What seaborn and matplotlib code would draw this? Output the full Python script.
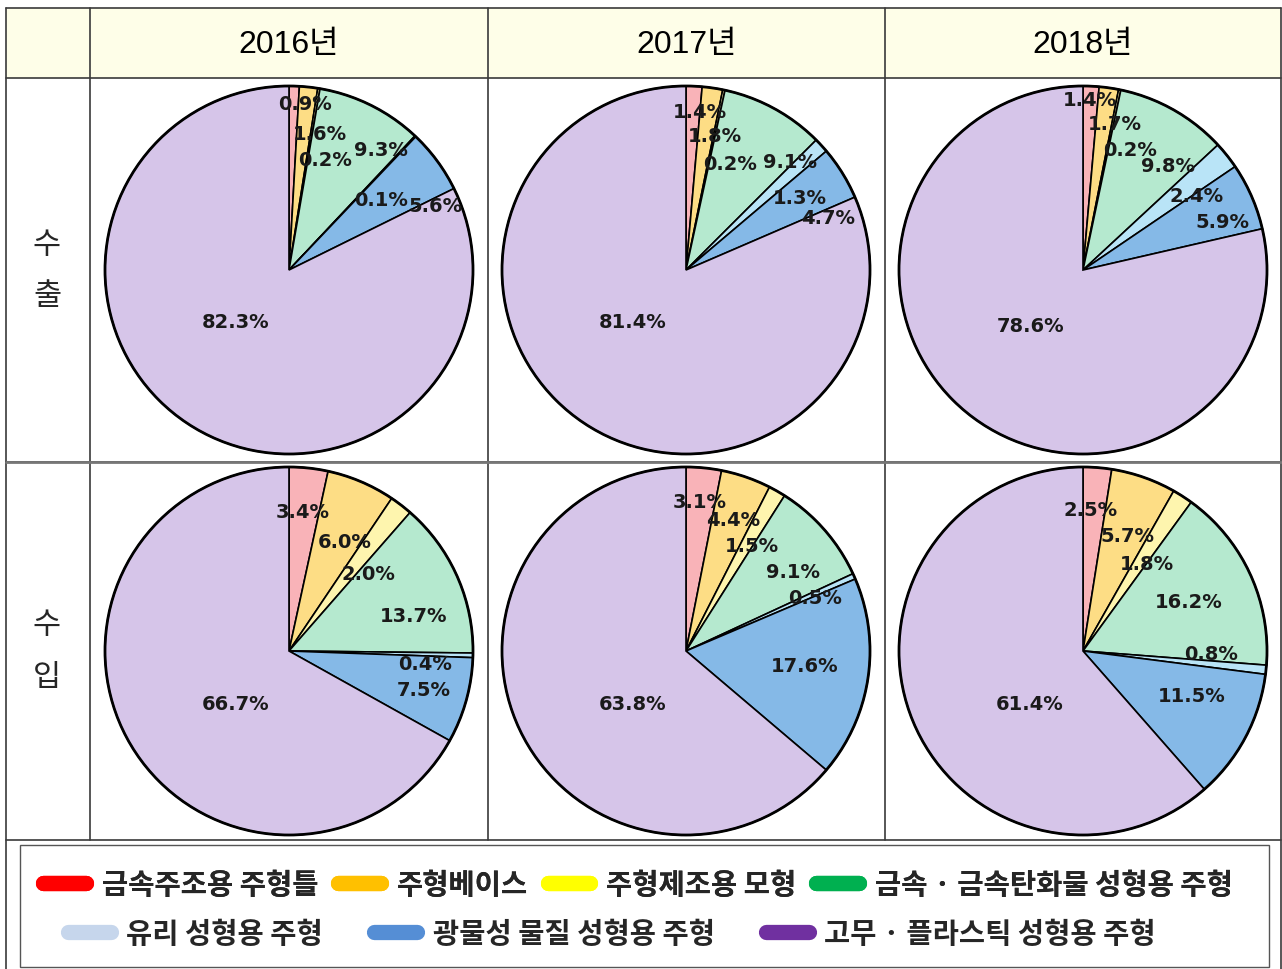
import seaborn as sns
import pandas as pd
import matplotlib.pyplot as plt
from matplotlib.lines import Line2D
from matplotlib.patches import Rectangle

# product groups (legend order = slice order, clockwise from 12 o'clock)
categories = ["금속주조용 주형틀", "주형베이스", "주형제조용 모형",
              "금속 · 금속탄화물 성형용 주형", "유리 성형용 주형",
              "광물성 물질 성형용 주형", "고무 · 플라스틱 성형용 주형"]
years = ["2016년", "2017년", "2018년"]
rows = ["수출", "수입"]

# shares in percent
export_2016 = [0.9, 1.6, 0.2, 9.3, 0.1, 5.6, 82.3]
export_2017 = [1.4, 1.8, 0.2, 9.1, 1.3, 4.7, 81.4]
export_2018 = [1.4, 1.7, 0.2, 9.8, 2.4, 5.9, 78.6]
import_2016 = [3.4, 6.0, 2.0, 13.7, 0.4, 7.5, 66.7]
import_2017 = [3.1, 4.4, 1.5, 9.1, 0.5, 17.6, 63.8]
import_2018 = [2.5, 5.7, 1.8, 16.2, 0.8, 11.5, 61.4]

df = pd.DataFrame({
    "category": categories * 6,
    "kind": sum([[r] * 7 * 3 for r in rows], []),
    "year": sum([[y] * 7 for y in years], []) * 2,
    "share": export_2016 + export_2017 + export_2018 + import_2016 + import_2017 + import_2018,
})

pie_colors = ["#F9B3B8", "#FDDD85", "#FEF5AE", "#B5E9CF", "#B9E4F7", "#85B9E7", "#D6C5E9"]
legend_colors = ["#FF0000", "#FFC000", "#FFFF00", "#00B050", "#C6D6EC", "#558ED5", "#7030A0"]

# label placement (pixels from pie centre), per pie
label_pos = {
    ("수출", "2016년"): [(16, -166), (31, -137), (36, -111), (92, -120), (92, -70), (146, -65), (-53, 52)],
    ("수출", "2017년"): [(14, -158), (29, -134), (44, -106), (104, -109), (114, -72), (142, -52), (-53, 52)],
    ("수출", "2018년"): [(7, -170), (32, -147), (47, -120), (85, -104), (114, -75), (139, -48), (-52, 55)],
    ("수입", "2016년"): [(14, -139), (56, -109), (79, -77), (125, -35), (136, 12), (135, 39), (-53, 52)],
    ("수입", "2017년"): [(14, -150), (47, -131), (66, -106), (107, -80), (129, -54), (119, 15), (-53, 53)],
    ("수입", "2018년"): [(8, -141), (44, -116), (64, -88), (106, -49), (128, 2), (109, 45), (-53, 53)],
}

sns.set_theme(style="white")
plt.rcParams["font.family"] = ["Liberation Sans", "Noto Sans CJK KR", "DejaVu Sans"]

W, H = 1282, 970
fig = plt.figure(figsize=(W / 100, H / 100), dpi=100)

# table drawn in pixel coordinates
grid = fig.add_axes([0, 0, 1, 1])
grid.set_xlim(0, W)
grid.set_ylim(H, 0)
grid.axis("off")

col_x = [6, 90, 488, 885, 1281]
row_y = [9, 79, 463, 841]
grid.add_patch(Rectangle((col_x[0], row_y[0]), col_x[-1] - col_x[0], row_y[1] - row_y[0],
                         facecolor="#FEFEE8", edgecolor="none"))
line_kw = dict(color="#3a3a3a", lw=1.2)
for x in col_x[1:-1]:
    grid.plot([x, x], [row_y[0], row_y[-1]], **line_kw)
for x in (col_x[0], col_x[-1]):
    grid.plot([x, x], [row_y[0], H + 5], **line_kw)
for y in row_y:
    grid.plot([col_x[0], col_x[-1]], [y, y], **line_kw)
grid.plot([col_x[0], col_x[-1]], [row_y[2], row_y[2]], color="#777777", lw=2)

for i, yr in enumerate(years):
    grid.text((col_x[i + 1] + col_x[i + 2]) / 2, 45, yr, ha="center", va="center",
              fontsize=23, color="black")

for j, r in enumerate(rows):
    yc = (row_y[j + 1] + row_y[j + 2]) / 2
    for k, ch in enumerate(r):
        grid.text(47, yc - 26 + 52 * k, ch, ha="center", va="center", fontsize=22,
                  family=["Noto Sans CJK KR"], fontweight="medium")

# pies
R = 184
centers_x = [289, 686, 1083]
centers_y = [271, 652]
for j, r in enumerate(rows):
    for i, yr in enumerate(years):
        cx, cy = centers_x[i], centers_y[j]
        ax = fig.add_axes([(cx - R) / W, 1 - (cy + R) / H, 2 * R / W, 2 * R / H])
        vals = df[(df.kind == r) & (df.year == yr)]["share"].tolist()
        wedges, _ = ax.pie(vals, colors=pie_colors, startangle=90, counterclock=False,
                           wedgeprops=dict(edgecolor="black", linewidth=1.2, clip_on=False))
        ax.add_patch(plt.Circle((0, 0), 1, fill=False, edgecolor="black", lw=2, clip_on=False))
        ax.set_xlim(-1, 1)
        ax.set_ylim(-1, 1)
        for v, (dx, dy) in zip(vals, label_pos[(r, yr)]):
            ax.text(dx / R, -dy / R, f"{v:.1f}%", ha="center", va="center",
                    fontsize=14, fontweight="bold", color="#1a1a1a",
                    family=["DejaVu Sans"], clip_on=False)

# legend box
grid.add_patch(Rectangle((20, 846), 1249, 122, facecolor="white", edgecolor="#555555", lw=1))
handles = [Line2D([0], [0], color=c, lw=11, solid_capstyle="round") for c in legend_colors]
leg_font = dict(family="Noto Sans CJK KR", weight="bold", size=20.5)
leg1 = fig.legend(handles[:4], categories[:4], loc="center", bbox_to_anchor=(638 / W, 1 - 886 / H),
                  ncol=4, frameon=False, prop=leg_font, handlelength=1.5, handletextpad=0.55,
                  columnspacing=0.7)
fig.legend(handles[4:], categories[4:], loc="center", bbox_to_anchor=(612 / W, 1 - 935 / H),
           ncol=3, frameon=False, prop=leg_font, handlelength=1.5, handletextpad=0.55,
           columnspacing=1.8)
fig.add_artist(leg1)

fig.savefig("out.png", dpi=100)
